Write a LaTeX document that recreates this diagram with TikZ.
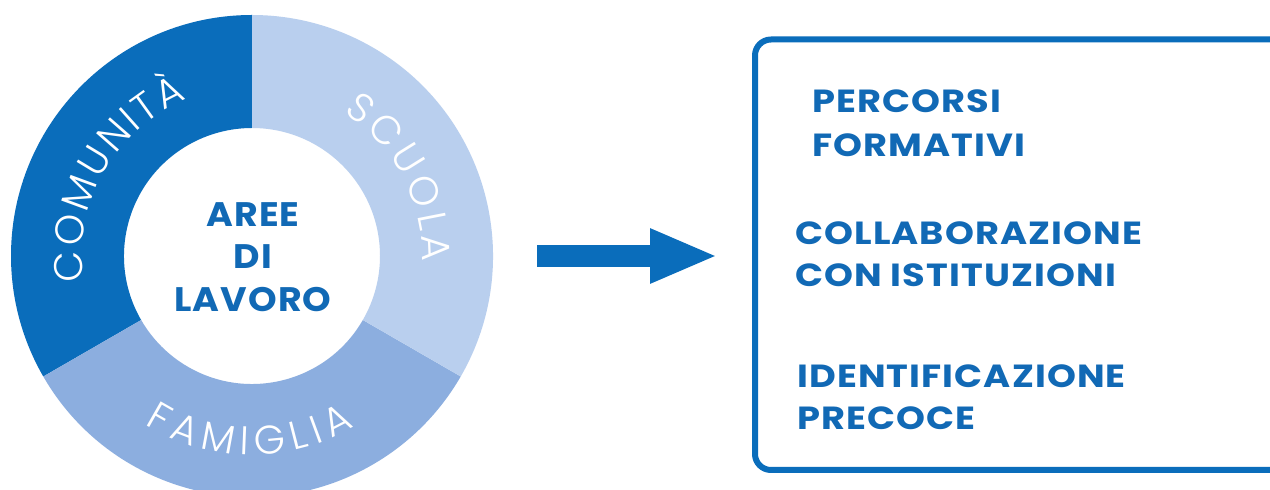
\documentclass[tikz,border=0pt]{standalone}
\usepackage{fontspec}
\usepackage{graphicx}
\setmainfont{Poppins}
\newfontfamily\lightfont{Poppins Light}
\newfontfamily\widebold{Poppins}[LetterSpace=3]
\usetikzlibrary{decorations.text,arrows.meta}
\definecolor{darkblue}{HTML}{0A6DBB}
\definecolor{midblue}{HTML}{8CAEDF}
\definecolor{lightblue}{HTML}{B9CFEE}
\definecolor{textblue}{HTML}{1169B5}
\newcommand\boxline[1]{\scalebox{1.15}[1]{#1}}
\newcommand\centreline[1]{\scalebox{1.07}[1]{#1}}
\tikzset{
  ringtext/.style={decorate,decoration={text along path,text align={fit to path},text color=white,
     text={|\lightfont\fontsize{40}{40}\selectfont|#1}}},
  centretext/.style={font=\widebold\bfseries\fontsize{34}{34}\selectfont,text=textblue,inner sep=0pt,anchor=base},
  boxtext/.style={font=\widebold\bfseries\fontsize{32}{32}\selectfont,text=textblue,inner sep=0pt,anchor=base west},
}
\begin{document}
\begin{tikzpicture}[x=1pt,y=1pt]
\useasboundingbox[fill=white] (0,0) rectangle (1270,490);
\begin{scope}[shift={(252,234)}]
  \fill[darkblue] (90:241) arc[start angle=90,end angle=210,radius=241] -- (210:128) arc[start angle=210,end angle=90,radius=128] -- cycle;
  \fill[midblue] (210:241) arc[start angle=210,end angle=330,radius=241] -- (330:128) arc[start angle=330,end angle=210,radius=128] -- cycle;
  \fill[lightblue] (330:241) arc[start angle=330,end angle=450,radius=241] -- (450:128) arc[start angle=450,end angle=330,radius=128] -- cycle;
  \path[ringtext=COMUNITÀ] (188.5:170) arc[start angle=188.5,end angle=112.5,radius=170];
  \path[ringtext=SCUOLA] (57.5:170) arc[start angle=57.5,end angle=-2,radius=170];
  \path[ringtext=FAMIGLIA] (237.5:199) arc[start angle=237.5,end angle=301,radius=199];
\end{scope}
\node[centretext] (aree) at (253,263) {\centreline{AREE}};
\node[centretext] (di) at (253,221) {\centreline{DI}};
\node[centretext] (lavoro) at (253,178) {\centreline{LAVORO}};
\coordinate (astart) at (537,234);
\coordinate (aend) at (718,234);
\draw[darkblue,line width=22pt,-{Triangle[length=68pt,width=50pt]}] (astart) -- (aend);
\draw[darkblue,line width=6pt,rounded corners=16pt] (755,20) rectangle (1300,450.5);
\node[boxtext] (p1) at (812,377) {\boxline{PERCORSI}};
\node[boxtext] (p2) at (812,333) {\boxline{FORMATIVI}};
\node[boxtext] (c1) at (795,245) {\boxline{COLLABORAZIONE}};
\node[boxtext] (c2) at (795,203) {\boxline{CON ISTITUZIONI}};
\node[boxtext] (i1) at (797,102) {\boxline{IDENTIFICAZIONE}};
\node[boxtext] (i2) at (797,60) {\boxline{PRECOCE}};
\end{tikzpicture}
\end{document}
